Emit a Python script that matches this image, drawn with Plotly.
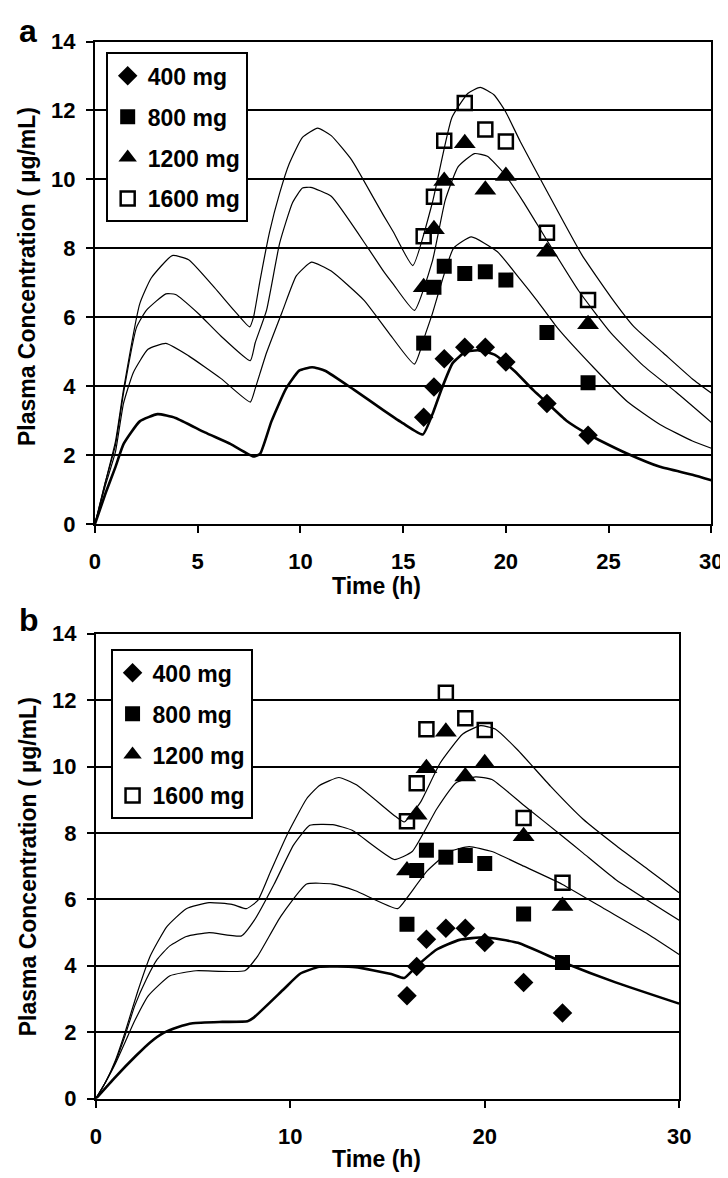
import plotly.graph_objects as go

# ---------------- observed data (identical in both panels) ----------------
obs_time = [16, 16.5, 17, 18, 19, 20, 22, 24]
obs_400 = [3.1, 3.98, 4.8, 5.13, 5.13, 4.7, 3.5, 2.58]
obs_800 = [5.25, 6.87, 7.48, 7.27, 7.32, 7.08, 5.56, 4.1]
obs_1200 = [6.87, 8.55, 9.95, 11.05, 9.7, 10.1, 7.9, 5.8]
obs_1600 = [8.35, 9.5, 11.12, 12.22, 11.45, 11.1, 8.45, 6.5]

# ---------------- panel a model curves ----------------
a_t400 = [0, 0.52, 1.0, 1.39, 2.18, 3.05, 3.92, 5.35, 6.61, 7.72, 8.04, 8.59, 9.3, 9.94, 10.57, 11.2,
          12.6, 14.05, 15.0, 15.96, 16.46, 16.86, 17.41, 18.04, 18.68, 19.47, 20.42, 21.36, 22.0,
          22.95, 24.02, 24.53, 25.92, 27.5, 29.08, 30]
a_c400 = [0, 0.9, 1.66, 2.32, 2.98, 3.19, 3.08, 2.66, 2.32, 1.96, 2.04, 2.98, 3.93, 4.45, 4.55, 4.45,
          3.9, 3.3, 2.92, 2.6, 3.24, 3.9, 4.67, 5.0, 5.04, 4.91, 4.44, 3.87, 3.52,
          3.0, 2.6, 2.44, 2.04, 1.66, 1.43, 1.27]

a_t800 = [0, 0.5, 1.0, 1.39, 1.87, 2.58, 3.45, 4.56, 6.14, 7.56, 7.8, 8.35, 9.14, 9.8, 10.54, 11.5,
          13.1, 14.3, 15.55, 16.1, 16.42, 17.45, 18.32, 19.59, 20.7, 21.5, 22.5, 24.34, 25.92,
          27.5, 29.08, 30]
a_c800 = [0, 1.1, 2.1, 3.5, 4.4, 5.07, 5.24, 4.88, 4.22, 3.54, 3.93, 4.97, 6.2, 7.2, 7.6, 7.34,
          6.49, 5.55, 4.64, 5.54, 6.1, 8.0, 8.33, 7.9, 7.1, 6.5, 5.7, 4.5, 3.55,
          2.89, 2.41, 2.2]

a_t1200 = [0, 0.5, 1.0, 1.39, 2.02, 2.5, 3.45, 3.92, 5.03, 6.14, 7.56, 7.8, 8.35, 8.99, 9.62, 10.1,
           10.5, 11.5, 13.3, 14.05, 14.52, 15.55, 16.42, 17.05, 17.68, 18.47, 19.1, 19.9, 20.85,
           21.96, 23.54, 25.12, 26.7, 28.28, 30]
a_c1200 = [0, 1.2, 2.3, 3.8, 5.7, 6.2, 6.68, 6.66, 6.11, 5.45, 4.74, 5.26, 6.2, 8.15, 9.33, 9.75,
           9.77, 9.51, 8.0, 7.33, 6.96, 6.2, 7.62, 9.4, 10.37, 10.75, 10.67, 10.18, 9.35,
           8.27, 6.77, 5.54, 4.59, 3.83, 2.95]

a_t1600 = [0, 0.5, 1.0, 1.39, 2.18, 2.74, 3.76, 4.56, 5.82, 6.77, 7.53, 7.72, 8.03, 8.5, 8.99, 9.46,
           10.1, 10.84, 11.5, 12.5, 13.6, 14.05, 14.52, 15.47, 16.42, 17.37, 18.16, 18.75, 19.43,
           20.0, 20.7, 21.96, 23.7, 25.12, 26.23, 27.65, 29.08, 30]
a_c1600 = [0, 1.2, 2.4, 3.9, 6.39, 7.14, 7.79, 7.67, 6.86, 6.2, 5.72, 6.01, 7.05, 8.48, 9.6, 10.46,
           11.22, 11.49, 11.27, 10.56, 9.42, 8.95, 8.48, 7.5, 9.32, 11.79, 12.5, 12.67, 12.45,
           11.95, 11.1, 9.7, 7.81, 6.58, 5.73, 4.97, 4.21, 3.8]

# ---------------- panel b model curves ----------------
b_t400 = [0, 1.0, 2.06, 2.8, 3.48, 4.2, 4.98, 6.5, 7.8, 8.1, 9.67, 10.5, 11.5, 13.35, 15.19, 15.86,
          16.52, 17.53, 18.7, 20.0, 21.71, 24.05, 26.73, 30]
b_c400 = [0, 0.65, 1.29, 1.7, 1.98, 2.15, 2.27, 2.31, 2.33, 2.43, 3.3, 3.76, 3.97, 3.96, 3.75, 3.63,
          4.0, 4.49, 4.78, 4.86, 4.69, 4.1, 3.5, 2.86]

b_t800 = [0, 0.5, 1.0, 1.5, 2.0, 2.7, 3.81, 5.15, 7.66, 8.33, 9.5, 10.84, 12.18, 13.35, 15.52, 16.02,
          17.03, 18.2, 19.2, 20.37, 22.0, 24.0, 26.2, 28.4, 30]
b_c800 = [0, 0.5, 1.05, 1.7, 2.35, 3.1, 3.7, 3.85, 3.85, 4.3, 5.48, 6.46, 6.46, 6.26, 5.72, 6.06,
          6.85, 7.44, 7.59, 7.44, 7.0, 6.45, 5.7, 4.95, 4.34]

b_t1200 = [0, 0.5, 1.0, 1.5, 2.0, 2.6, 3.15, 3.8, 4.65, 5.82, 7.49, 8.16, 9.17, 10.17, 11.0, 12.18,
           13.18, 15.35, 16.27, 17.53, 18.53, 19.53, 20.37, 22.04, 24.0, 25.05, 26.73, 30]
b_c1200 = [0, 0.5, 1.1, 1.9, 2.8, 3.6, 4.19, 4.6, 4.88, 5.0, 4.9, 5.38, 6.46, 7.64, 8.23, 8.25,
           8.08, 7.2, 7.44, 8.72, 9.51, 9.69, 9.61, 8.82, 7.9, 7.4, 6.6, 5.37]

b_t1600 = [0, 0.5, 1.0, 1.5, 2.14, 2.8, 3.65, 4.65, 5.82, 7.0, 7.74, 8.33, 9.0, 9.83, 10.84, 11.5,
           12.5, 13.4, 15.4, 15.86, 16.69, 17.7, 18.87, 19.79, 20.54, 21.71, 23.38, 25.05, 26.8,
           28.4, 30]
b_c1600 = [0, 0.5, 1.15, 2.0, 3.21, 4.3, 5.18, 5.72, 5.9, 5.85, 5.72, 5.97, 6.86, 7.94, 9.03, 9.43,
           9.67, 9.45, 8.5, 8.33, 8.92, 10.1, 10.98, 11.23, 11.13, 10.49, 9.41, 8.42, 7.6,
           6.9, 6.2]

dose_names = ["400 mg", "800 mg", "1200 mg", "1600 mg"]
y_tick_vals = [0, 2, 4, 6, 8, 10, 12, 14]
a_x_ticks = [0, 5, 10, 15, 20, 25, 30]
b_x_ticks = [0, 10, 20, 30]

FONT = "Liberation Sans, Arial, sans-serif"
W, H = 728, 1178

fig = go.Figure()

curves = {
    "a": [(a_t400, a_c400), (a_t800, a_c800), (a_t1200, a_c1200), (a_t1600, a_c1600)],
    "b": [(b_t400, b_c400), (b_t800, b_c800), (b_t1200, b_c1200), (b_t1600, b_c1600)],
}
obs = [obs_400, obs_800, obs_1200, obs_1600]
markers = [
    dict(symbol="diamond", size=15, color="black"),
    dict(symbol="square", size=15, color="black"),
    dict(symbol="triangle-up", size=19, color="black"),
    dict(symbol="square-open", size=14, color="black", line=dict(width=2.5, color="black")),
]

for p, (xa, ya, lg) in zip(["a", "b"], [("x", "y", "legend"), ("x2", "y2", "legend2")]):
    for i, (t, c) in enumerate(curves[p]):
        fig.add_trace(go.Scatter(
            x=t, y=c, mode="lines", xaxis=xa, yaxis=ya, showlegend=False, hoverinfo="skip",
            line=dict(color="black", width=2.6 if i == 0 else 1.2, shape="spline", smoothing=0.45),
        ))
    for i in range(4):
        fig.add_trace(go.Scatter(
            x=obs_time, y=obs[i], mode="markers", xaxis=xa, yaxis=ya,
            name=dose_names[i], legend=lg, legendgroup=f"{p}{i}",
            marker=markers[i],
        ))

axis_common = dict(
    showline=True, linecolor="black", linewidth=2, mirror=True,
    ticks="outside", ticklen=7, tickwidth=2, tickcolor="black",
    tickfont=dict(family=FONT, size=22, color="black", weight="bold"),
    zeroline=False,
)

legend_common = dict(
    xanchor="left", yanchor="top", bgcolor="white", bordercolor="black", borderwidth=2,
    font=dict(family=FONT, size=23, color="black", weight="bold"),
    traceorder="grouped", tracegroupgap=8, itemsizing="trace",
)

fig.update_layout(
    width=W, height=H, autosize=False,
    margin=dict(l=0, r=0, t=0, b=0),
    paper_bgcolor="white", plot_bgcolor="white",
    xaxis=dict(domain=[83 / W, 715 / W], range=[0, 30], tickvals=a_x_ticks, showgrid=False,
               anchor="y", ticklabelstandoff=10, **axis_common),
    yaxis=dict(domain=[1 - 515 / H, 1 - 22 / H], range=[0, 14], tickvals=y_tick_vals,
               showgrid=True, gridcolor="black", gridwidth=1.5, anchor="x",
               ticklabelstandoff=6, **axis_common),
    xaxis2=dict(domain=[84 / W, 682 / W], range=[0, 30], tickvals=b_x_ticks, showgrid=False,
                anchor="y2", ticklabelstandoff=10, **axis_common),
    yaxis2=dict(domain=[1 - 1102 / H, 1 - 627 / H], range=[0, 14], tickvals=y_tick_vals,
                showgrid=True, gridcolor="black", gridwidth=1.5, anchor="x2",
                ticklabelstandoff=6, **axis_common),
    legend=dict(x=94 / W, y=1 - 33 / H, **legend_common),
    legend2=dict(x=99 / W, y=1 - 643 / H, **legend_common),
    showlegend=True,
)

title_font = dict(family=FONT, size=23, color="black", weight="bold")
annotations = []
for lab, ycen, xtitle_y, ytitle_y in [("a", 11, 578, 262), ("b", 613, 1164, 865)]:
    annotations.append(dict(text=lab, x=3 / W, y=1 - ycen / H, xref="paper", yref="paper",
                            xanchor="left", yanchor="middle", showarrow=False,
                            font=dict(family=FONT, size=32, color="black", weight="bold")))
    annotations.append(dict(text="Time (h)", x=372 / W, y=1 - xtitle_y / H, xref="paper",
                            yref="paper", xanchor="center", yanchor="middle", showarrow=False,
                            font=title_font))
    annotations.append(dict(text="Plasma Concentration ( µg/mL)", x=14 / W, y=1 - ytitle_y / H,
                            xref="paper", yref="paper", xanchor="center", yanchor="middle",
                            textangle=-90, showarrow=False, font=title_font))
fig.update_layout(annotations=annotations)

fig.write_html("out.html")
